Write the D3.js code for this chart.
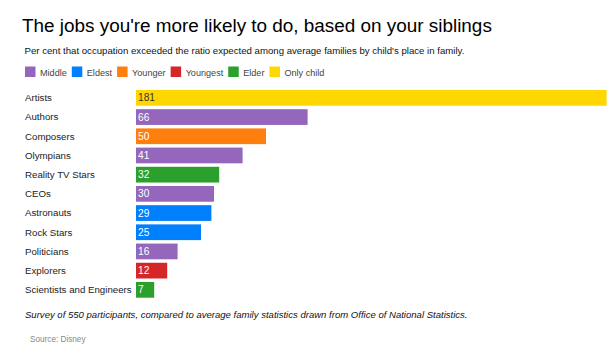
<!DOCTYPE html>
<html><head><meta charset="utf-8">
<script src="https://cdn.jsdelivr.net/npm/d3@7"></script>
<style>
body{margin:0;background:#fff;}
svg{display:block;font-family:"Liberation Sans",Arial,sans-serif;}
</style></head>
<body><svg id="c" width="609" height="349"></svg>
<script>
const categories = ["Artists","Authors","Composers","Olympians","Reality TV Stars","CEOs","Astronauts","Rock Stars","Politicians","Explorers","Scientists and Engineers"];
const values = [181,66,50,41,32,30,29,25,16,12,7];
const groups = ["Only child","Middle","Younger","Middle","Elder","Middle","Eldest","Eldest","Middle","Youngest","Elder"];
const legendLabels = ["Middle","Eldest","Younger","Youngest","Elder","Only child"];
const legendColors = ["#9467bd","#0080ff","#ff7f0e","#d62728","#2ca02c","#ffd700"];

const svg = d3.select("#c");
const color = d3.scaleOrdinal().domain(legendLabels).range(legendColors);

svg.append("text").attr("x",22).attr("y",32).attr("font-size",18.9).attr("fill","#000")
  .text("The jobs you're more likely to do, based on your siblings");
svg.append("text").attr("x",24.5).attr("y",54).attr("font-size",9.65).attr("fill","#111")
  .text("Per cent that occupation exceeded the ratio expected among average families by child's place in family.");

// legend
let lx = 25;
legendLabels.forEach(l=>{
  const g = svg.append("g");
  g.append("rect").attr("x",lx).attr("y",66.5).attr("width",10.5).attr("height",10.5).attr("fill",color(l));
  const t = g.append("text").attr("x",lx+15).attr("y",75.5).attr("font-size",9.1).attr("fill","#444").text(l);
  lx = lx + 15 + t.node().getComputedTextLength() + 5;
});

const x = d3.scaleLinear().domain([0,181]).range([136,606.6]);
const y = d3.scaleBand().domain(categories).range([90,297.7]).paddingInner(0.18).paddingOuter(0);

const rows = svg.append("g").selectAll("g").data(categories).join("g");
rows.append("rect").attr("x",x(0)).attr("y",d=>y(d))
  .attr("width",(d,i)=>x(values[i])-x(0)).attr("height",y.bandwidth())
  .attr("fill",(d,i)=>color(groups[i]));
rows.append("text").attr("x",25).attr("y",d=>y(d)+y.bandwidth()/2).attr("dy","0.35em")
  .attr("font-size",9.7).attr("fill","#222").text(d=>d);
rows.append("text").attr("x",x(0)+2).attr("y",d=>y(d)+y.bandwidth()/2).attr("dy","0.35em")
  .attr("font-size",10.2)
  .attr("fill",(d,i)=>groups[i]==="Only child"?"#333":"#fff").text((d,i)=>values[i]);

svg.append("text").attr("x",25).attr("y",318).attr("font-size",9.55).attr("font-style","italic").attr("fill","#111")
  .text("Survey of 550 participants, compared to average family statistics drawn from Office of National Statistics.");
svg.append("text").attr("x",30).attr("y",342).attr("font-size",8.2).attr("fill","#888").text("Source: Disney");
</script></body></html>
